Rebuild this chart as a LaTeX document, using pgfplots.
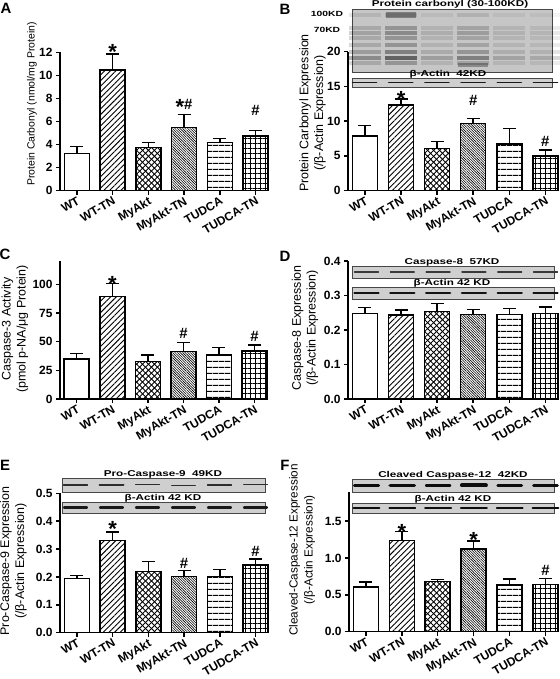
\documentclass[border=0pt]{standalone}
\usepackage{fontspec}
\setmainfont{Liberation Sans}
\usepackage{pgfplots}
\pgfplotsset{compat=1.18}
\usetikzlibrary{patterns.meta}
\newcommand{\bl}[1]{\scalebox{1.38}[1]{#1}}
\pgfplotsset{
 panel/.style={
  scale only axis, axis lines*=left, axis line style={-, line width=1.5bp},
  ybar, bar width=25bp, bar shift=0pt, xmin=-0.47, xmax=5.35, ymin=0,
  xtick={0,...,5}, xticklabels={WT,WT-TN,MyAkt,MyAkt-TN,TUDCA,TUDCA-TN},
  xticklabel style={rotate=30, anchor=north east, inner sep=1bp, font=\bfseries\fontsize{12}{12}\selectfont},
  yticklabel style={font=\bfseries\fontsize{12}{12}\selectfont},
  /pgf/number format/assume math mode=true,
  tick align=outside, major tick length=4bp, tick style={line width=1.5bp, black},
  clip=false,
  error bars/y dir=plus, error bars/y explicit,
  error bars/error bar style={line width=1.5bp, black, solid},
  error bars/error mark options={rotate=90, mark size=6.5bp, line width=1.5bp, black},
 },
 onedec/.style={yticklabel style={/pgf/number format/.cd, fixed, fixed zerofill, precision=1}},
 b0/.style={fill=white, draw=black, line width=1.5bp},
 b1/.style={draw=black, line width=1.5bp, pattern={Lines[angle=45,distance=4bp,line width=0.9bp]}},
 b2/.style={draw=black, line width=1.5bp, pattern={Lines[angle=45,distance=4.2bp,line width=0.9bp]}, postaction={pattern={Lines[angle=-45,distance=4.2bp,line width=0.9bp]}}},
 b3/.style={draw=black, line width=1.5bp, pattern={Lines[angle=-45,distance=1.8bp,line width=0.6bp]}},
 b4/.style={draw=black, line width=1.5bp, pattern={Lines[angle=0,distance=6bp,line width=1.2bp]}},
 b5/.style={draw=black, line width=1.5bp, pattern={Lines[angle=0,distance=5bp,line width=1bp]}, postaction={pattern={Lines[angle=90,distance=5bp,line width=1bp]}}},
}
\tikzset{
 ast/.style={font=\bfseries\fontsize{22}{22}\selectfont, anchor=base, inner sep=0pt, yshift=-9.5bp},
 hsh/.style={font=\bfseries\fontsize{15}{15}\selectfont, anchor=base, inner sep=0pt},
 ylab/.style={rotate=90, align=center, font=\fontsize{12.5}{15}\selectfont},
 letter/.style={font=\bfseries\fontsize{15}{15}\selectfont},
 strip/.style={fill=gray!38, draw=gray!55!black, line width=0.6bp},
 blab/.style={font=\bfseries\fontsize{8.5}{8.5}\selectfont, inner sep=0.5bp},
}
\begin{document}
\begin{tikzpicture}[x=1bp,y=1bp]
\useasboundingbox (0,0) rectangle (560,679);

% ---------------- A ----------------
\begin{axis}[panel, at={(60bp,488.3bp)}, anchor=south west, width=208bp, height=138.4bp, ymax=12, ytick={0,2,...,12}]
\addplot[b0] coordinates {(0,3.24) +- (0,0.57)};
\addplot[b1] coordinates {(1,10.46) +- (0,1.39)};
\addplot[b2] coordinates {(2,3.73) +- (0,0.43)};
\addplot[b3] coordinates {(3,5.46) +- (0,1.16)};
\addplot[b4] coordinates {(4,4.16) +- (0,0.38)};
\addplot[b5] coordinates {(5,4.74) +- (0,0.46)};
\node[ast] at (axis cs:1,12.2) {*};
\node[hsh] at (axis cs:3,7.0) {\raisebox{-5bp}{\fontsize{22}{22}\selectfont *}\#};
\node[hsh] at (axis cs:5,6.56) {\#};
\end{axis}

% ---------------- B ----------------
\begin{axis}[panel, at={(348bp,488.3bp)}, anchor=south west, width=210bp, height=139bp, ymax=20, ytick={0,5,...,20}]
\addplot[b0] coordinates {(0,7.87) +- (0,1.53)};
\addplot[b1] coordinates {(1,12.33) +- (0,0.86)};
\addplot[b2] coordinates {(2,6.09) +- (0,0.96)};
\addplot[b3] coordinates {(3,9.69) +- (0,0.72)};
\addplot[b4] coordinates {(4,6.71) +- (0,2.26)};
\addplot[b5] coordinates {(5,4.99) +- (0,0.86)};
\node[ast] at (axis cs:1,13.45) {*};
\node[hsh] at (axis cs:3,12.2) {\#};
\node[hsh] at (axis cs:5,6.35) {\#};
\end{axis}

% ---------------- C ----------------
\begin{axis}[panel, at={(60bp,280bp)}, anchor=south west, width=207bp, height=137.6bp, ymax=120, ytick={0,25,50,75,100}]
\addplot[b0] coordinates {(0,34.9) +- (0,4.9)};
\addplot[b1] coordinates {(1,89.2) +- (0,11.7)};
\addplot[b2] coordinates {(2,32.6) +- (0,5.8)};
\addplot[b3] coordinates {(3,41.3) +- (0,8.1)};
\addplot[b4] coordinates {(4,38.4) +- (0,6.4)};
\addplot[b5] coordinates {(5,41.9) +- (0,5.2)};
\node[ast] at (axis cs:1,102.3) {*};
\node[hsh] at (axis cs:3,52.5) {\#};
\node[hsh] at (axis cs:5,50.5) {\#};
\end{axis}

% ---------------- D ----------------
\begin{axis}[panel, onedec, at={(348bp,280bp)}, anchor=south west, width=210bp, height=138bp, ymax=0.4, ytick={0,0.1,...,0.41}]
\addplot[b0] coordinates {(0,0.248) +- (0,0.017)};
\addplot[b1] coordinates {(1,0.243) +- (0,0.015)};
\addplot[b2] coordinates {(2,0.253) +- (0,0.024)};
\addplot[b3] coordinates {(3,0.245) +- (0,0.015)};
\addplot[b4] coordinates {(4,0.245) +- (0,0.017)};
\addplot[b5] coordinates {(5,0.248) +- (0,0.018)};
\end{axis}

% ---------------- E ----------------
\begin{axis}[panel, onedec, at={(60bp,46.3bp)}, anchor=south west, width=208bp, height=139.4bp, ymax=0.5, ytick={0,0.1,...,0.51}]
\addplot[b0] coordinates {(0,0.195) +- (0,0.01)};
\addplot[b1] coordinates {(1,0.331) +- (0,0.031)};
\addplot[b2] coordinates {(2,0.219) +- (0,0.036)};
\addplot[b3] coordinates {(3,0.201) +- (0,0.022)};
\addplot[b4] coordinates {(4,0.202) +- (0,0.024)};
\addplot[b5] coordinates {(5,0.243) +- (0,0.021)};
\node[ast] at (axis cs:1,0.378) {*};
\node[hsh] at (axis cs:3,0.231) {\#};
\node[hsh] at (axis cs:5,0.273) {\#};
\end{axis}

% ---------------- F ----------------
\begin{axis}[panel, onedec, at={(349bp,47.3bp)}, anchor=south west, width=209bp, height=140bp, ymax=1.9, ytick={0,0.5,1,1.5}]
\addplot[b0] coordinates {(0,0.61) +- (0,0.065)};
\addplot[b1] coordinates {(1,1.24) +- (0,0.12)};
\addplot[b2] coordinates {(2,0.678) +- (0,0.028)};
\addplot[b3] coordinates {(3,1.12) +- (0,0.11)};
\addplot[b4] coordinates {(4,0.632) +- (0,0.085)};
\addplot[b5] coordinates {(5,0.641) +- (0,0.08)};
\node[ast] at (axis cs:1,1.378) {*};
\node[ast] at (axis cs:3,1.27) {*};
\node[hsh] at (axis cs:5,0.768) {\#};
\end{axis}

% ---------------- axis titles ----------------
\node[rotate=90, font=\fontsize{10.5}{12}\selectfont] at (32,575) {Protein Carbonyl (nmol/mg Protein)};
\node[ylab] at (312.5,566) {Protein Carbonyl Expression\\(/β-Actin Expression)};
\node[ylab] at (15,350) {Caspase-3 Activity\\(pmol p-NA/μg Protein)};
\node[ylab] at (305,351) {Caspase-8 Expression\\(/β-Actin Expression)};
\node[ylab] at (13.5,118) {Pro-Caspase-9 Expression\\(/β-Actin Expression)};
\node[ylab, font=\fontsize{11.8}{15}\selectfont] at (302,129) {Cleaved-Caspase-12 Expression\\(/β-Actin Expression)};

% ---------------- panel letters ----------------
\node[letter] at (6,671) {A};
\node[letter] at (285,670) {B};
\node[letter] at (5,425) {C};
\node[letter] at (285,423) {D};
\node[letter] at (5,214) {E};
\node[letter] at (285,214) {F};

% ---------------- blots: B ----------------
\draw[strip, fill=gray!45] (352,607) rectangle (552,670);
\foreach \cx/\d in {364.5/0.6, 400.7/1.0, 436.9/0.4, 473.1/0.7, 509.3/0.35, 545.5/0.3}{
  \foreach \ry/\s in {664/0.15, 651/0.25, 646/0.3, 641/0.25, 634/0.25, 627/0.35, 621/0.5, 616/0.25}{
    \pgfmathsetmacro\op{\d*\s}
    \fill[black, opacity=\op] (\cx-16,\ry-2) rectangle (\cx+16,\ry+2);
  }
}
\fill[black, opacity=0.35] (400.7-15,664-3) rectangle (400.7+15,664+3);
\fill[black, opacity=0.3] (473.1-15,614-2) rectangle (473.1+15,614+2);
\node[blab] at (450,675) {\bl{Protein carbonyl (30-100KD)}};
\node[blab, font=\bfseries\fontsize{7.5}{7.5}\selectfont] at (327,665) {\bl{100KD}};
\node[blab, font=\bfseries\fontsize{7.5}{7.5}\selectfont] at (327,649) {\bl{70KD}};
\draw[strip] (352,592) rectangle (552,601);
\foreach \cx in {364.5, 400.7, 436.9, 473.1, 509.3, 545.5}{
  \draw[line width=1.6bp, gray!20!black, line cap=round] (\cx-12,596.5) -- (\cx+12,596.5);
}
\node[blab, anchor=south] at (448,600) {\bl{β-Actin\ \ 42KD}};

% ---------------- blots: D ----------------
\draw[strip] (352,401) rectangle (554,413);
\foreach \cx in {366.5, 402.3, 438.1, 473.9, 509.7, 545.5}{
  \draw[line width=1.1bp, gray!45!black, line cap=round] (\cx-12,407) -- (\cx+12,407);
}
\node[blab, anchor=south] at (452,412) {\bl{Caspase-8\ \ 57KD}};
\draw[strip] (352,380) rectangle (554,392);
\foreach \cx in {366.5, 402.3, 438.1, 473.9, 509.7, 545.5}{
  \draw[line width=2.4bp, gray!15!black, line cap=round] (\cx-12,386) -- (\cx+12,386);
}
\node[blab, anchor=south] at (452,391) {\bl{β-Actin 42 KD}};

% ---------------- blots: E ----------------
\draw[strip] (62,187) rectangle (265,201);
\foreach \cx/\w in {75.5/1.2, 111.5/2.0, 147.5/1.0, 183.5/0.9, 219.5/1.2, 255.5/1.0}{
  \draw[line width=\w bp, gray!35!black, line cap=round] (\cx-12,194) -- (\cx+12,194);
}
\node[blab, anchor=south] at (163,200) {\bl{Pro-Caspase-9\ \ 49KD}};
\draw[strip] (62,166) rectangle (265,177);
\foreach \cx in {75.5, 111.5, 147.5, 183.5, 219.5, 255.5}{
  \draw[line width=2.2bp, gray!20!black, line cap=round] (\cx-11.5,171.5) -- (\cx+11.5,171.5);
}
\node[blab, anchor=south] at (163,176) {\bl{β-Actin 42 KD}};

% ---------------- blots: F ----------------
\draw[strip] (352,187) rectangle (554,200);
\foreach \cx/\w in {366.5/3.2, 402.3/3.8, 438.1/2.6, 473.9/4.0, 509.7/2.6, 545.5/2.6}{
  \draw[line width=\w bp, gray!10!black, line cap=round] (\cx-12,193.5) -- (\cx+12,193.5);
}
\node[blab, anchor=south] at (453,199) {\bl{Cleaved Caspase-12\ \ 42KD}};
\draw[strip] (352,166) rectangle (554,176);
\foreach \cx in {366.5, 402.3, 438.1, 473.9, 509.7, 545.5}{
  \draw[line width=1.8bp, gray!10!black, line cap=round] (\cx-13,171) -- (\cx+13,171);
}
\node[blab, anchor=south] at (453,175) {\bl{β-Actin 42 KD}};

\end{tikzpicture}
\end{document}
